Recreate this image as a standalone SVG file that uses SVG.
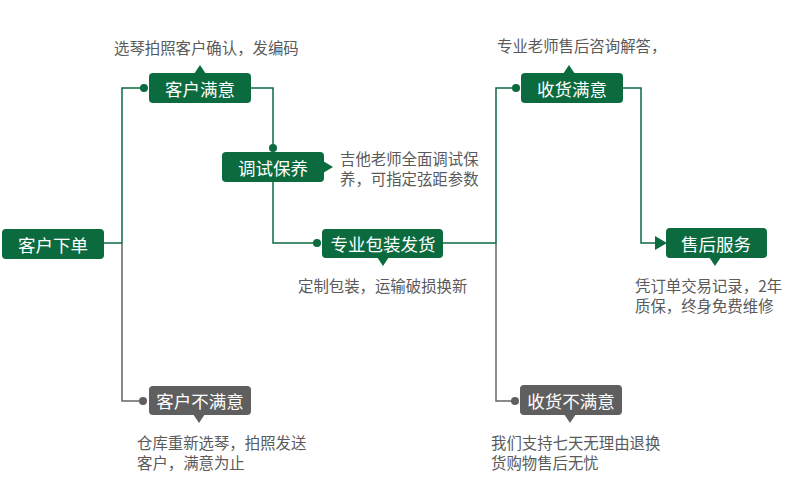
<svg xmlns="http://www.w3.org/2000/svg" width="790" height="500" viewBox="0 0 790 500">
<style>
.g{fill:#0b6b3f}
.k{fill:#5f5f5f}
.bt{font-family:"Microsoft YaHei","Noto Sans CJK SC",sans-serif;font-size:17.5px;fill:#ffffff;text-anchor:middle;dominant-baseline:central}
.nt{font-family:"Microsoft YaHei","Noto Sans CJK SC",sans-serif;font-size:15.4px;fill:#5a5a5a;dominant-baseline:central}
.lg{fill:none;stroke:#0b6b3f;stroke-width:1.5}
.lk{fill:none;stroke:#666666;stroke-width:1.5}
</style>
<rect width="790" height="500" fill="#ffffff"/>
<g id="connectors">
<path class="lg" d="M104,243 H122 V88 H144"/>
<path class="lk" d="M122,243 V401 H143"/>
<path class="lg" d="M251,88 H273 V148"/>
<path class="lg" d="M273,182 V243 H317"/>
<path class="lg" d="M443,243 H496 V88 H516"/>
<path class="lk" d="M496,243 V401 H515"/>
<path class="lg" d="M623,88 H641 V243 H656"/>
<circle class="g" cx="144" cy="88" r="4"/>
<circle class="g" cx="273" cy="148" r="4"/>
<circle class="g" cx="317" cy="243" r="4"/>
<circle class="g" cx="516" cy="88" r="4"/>
<circle class="k" cx="143" cy="401" r="4"/>
<circle class="k" cx="515" cy="401" r="4"/>
<polygon class="g" points="655,236 667,243 655,250"/>
</g>
<g id="n-order">
<rect class="g" x="2" y="229" width="102" height="30" rx="4"/>
<text class="bt" x="53" y="244">客户下单</text>
</g>
<g id="n-satisfied">
<rect class="g" x="149" y="73" width="102" height="30" rx="4"/>
<polygon class="g" points="194,74 200,65 206,74"/>
<text class="bt" x="200" y="88">客户满意</text>
<text class="nt" x="114" y="47">选琴拍照客户确认，发编码</text>
</g>
<g id="n-adjust">
<rect class="g" x="222" y="152" width="102" height="30" rx="4"/>
<polygon class="g" points="323,161 333,167 323,173"/>
<text class="bt" x="273" y="167">调试保养</text>
<text class="nt" x="340" y="158">吉他老师全面调试保</text>
<text class="nt" x="340" y="178">养，可指定弦距参数</text>
</g>
<g id="n-ship">
<rect class="g" x="322" y="229" width="121" height="29" rx="4"/>
<polygon class="g" points="377,257 383,266 389,257"/>
<text class="bt" x="383" y="243">专业包装发货</text>
<text class="nt" x="298" y="285">定制包装，运输破损换新</text>
</g>
<g id="n-unsatisfied">
<rect class="k" x="149" y="386" width="102" height="29" rx="4"/>
<polygon class="k" points="193,414 199,423 205,414"/>
<text class="bt" x="200" y="400">客户不满意</text>
<text class="nt" x="137" y="442">仓库重新选琴，拍照发送</text>
<text class="nt" x="137" y="462">客户，满意为止</text>
</g>
<g id="n-received">
<rect class="g" x="521" y="73" width="102" height="30" rx="4"/>
<polygon class="g" points="563,74 569,65 575,74"/>
<text class="bt" x="572" y="88">收货满意</text>
<text class="nt" x="497" y="45">专业老师售后咨询解答，</text>
</g>
<g id="n-after">
<rect class="g" x="666" y="228" width="101" height="30" rx="4"/>
<polygon class="g" points="709,257 715,266 721,257"/>
<text class="bt" x="716" y="243">售后服务</text>
<text class="nt" x="635" y="285">凭订单交易记录，2年</text>
<text class="nt" x="635" y="305">质保，终身免费维修</text>
</g>
<g id="n-received-no">
<rect class="k" x="520" y="385" width="102" height="30" rx="4"/>
<polygon class="k" points="564,414 570,423 576,414"/>
<text class="bt" x="571" y="400">收货不满意</text>
<text class="nt" x="491" y="442">我们支持七天无理由退换</text>
<text class="nt" x="491" y="462">货购物售后无忧</text>
</g>
</svg>
